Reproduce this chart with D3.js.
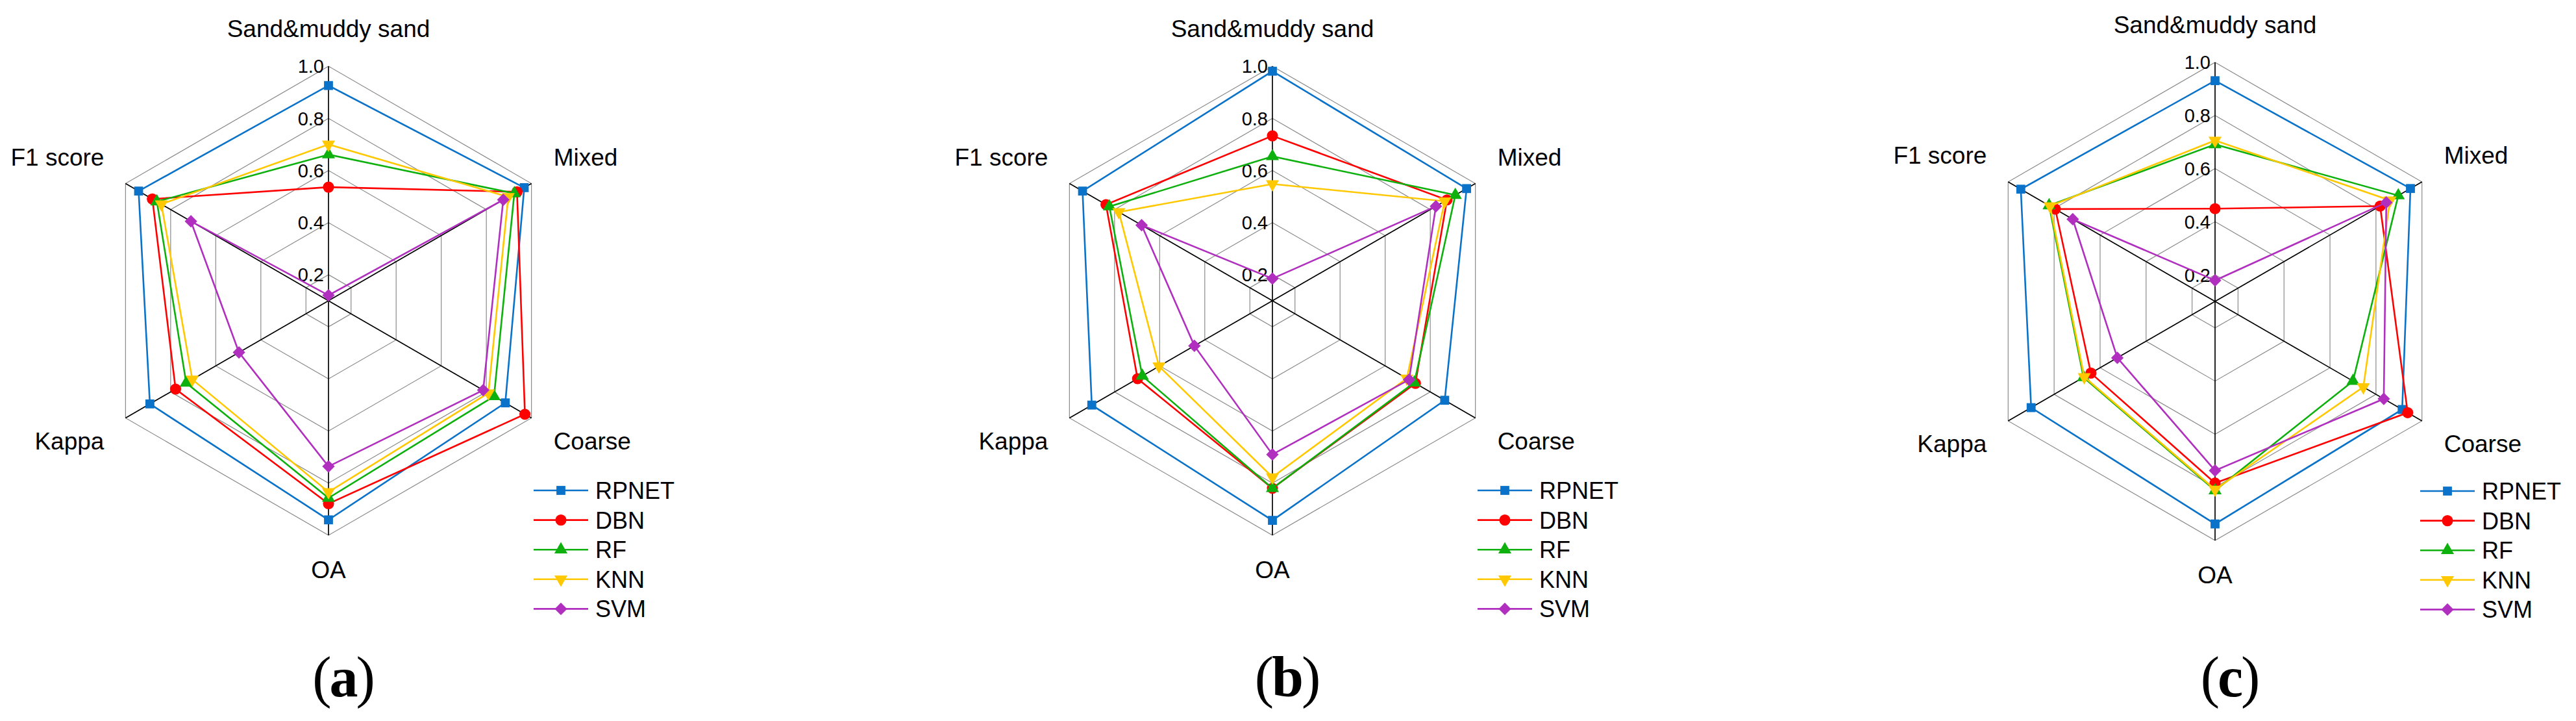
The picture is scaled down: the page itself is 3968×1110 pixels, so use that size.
<!DOCTYPE html>
<html>
<head>
<meta charset="utf-8">
<script src="https://cdn.jsdelivr.net/npm/d3@7/dist/d3.min.js"></script>
<style>
  html, body { margin: 0; padding: 0; background: #ffffff; }
  svg { display: block; }
</style>
</head>
<body>
<svg id="chart" width="3968" height="1110"></svg>
<script>
// ---------------- data ----------------
const axes = ["Sand&muddy sand", "Mixed", "Coarse", "OA", "Kappa", "F1 score"];
const seriesNames = ["RPNET", "DBN", "RF", "KNN", "SVM"];
const tickValues = [0.2, 0.4, 0.6, 0.8, 1.0];
const panelTitles = ["a", "b", "c"];

// values per series, in axis order: Sand, Mixed, Coarse, OA, Kappa, F1
const panelA = [
  [0.926, 0.968, 0.884, 0.941, 0.892, 0.942],
  [0.536, 0.936, 0.971, 0.879, 0.778, 0.881],
  [0.661, 0.924, 0.834, 0.857, 0.731, 0.861],
  [0.700, 0.897, 0.809, 0.834, 0.704, 0.841],
  [0.121, 0.875, 0.786, 0.736, 0.497, 0.710]
];
const panelB = [
  [0.981, 0.961, 0.864, 0.943, 0.901, 0.942],
  [0.733, 0.874, 0.734, 0.820, 0.698, 0.838],
  [0.654, 0.911, 0.729, 0.820, 0.677, 0.823],
  [0.548, 0.864, 0.696, 0.777, 0.603, 0.781],
  [0.185, 0.825, 0.706, 0.690, 0.446, 0.680]
];
const panelC = [
  [0.931, 0.950, 0.914, 0.938, 0.900, 0.945],
  [0.449, 0.818, 0.938, 0.784, 0.640, 0.795],
  [0.691, 0.897, 0.700, 0.812, 0.672, 0.822],
  [0.706, 0.861, 0.745, 0.808, 0.669, 0.818],
  [0.179, 0.845, 0.834, 0.737, 0.525, 0.719]
];

// ---------------- styles ----------------
const colors = ["#0a72c8", "#ff0000", "#0db00d", "#ffc800", "#b02fbf"];
const symbolTypes = ["square", "circle", "triangle", "triangleDown", "diamond"];
const panels = [
  { title: panelTitles[0], data: panelA, cx: 506,  cy: 463, R: 361 },
  { title: panelTitles[1], data: panelB, cx: 1960, cy: 463, R: 361 },
  { title: panelTitles[2], data: panelC, cx: 3412, cy: 464, R: 368 }
];

const svg = d3.select("#chart");
const sansFont = "'Liberation Sans', Arial, Helvetica, sans-serif";
const serifFont = "'Liberation Serif', 'Times New Roman', serif";
const angle = i => i * 2 * Math.PI / axes.length;

function symbolPath(type) {
  switch (type) {
    case "square": return d3.symbol(d3.symbolSquare, 190)();
    case "circle": return d3.symbol(d3.symbolCircle, 230)();
    case "triangle": return d3.symbol(d3.symbolTriangle, 175)();
    case "triangleDown": return d3.symbol(d3.symbolTriangle, 175)();
    case "diamond": return d3.symbol(d3.symbolSquare, 185)();
  }
}
function symbolRotate(type) {
  if (type === "triangleDown") return " rotate(180)";
  if (type === "diamond") return " rotate(45)";
  return "";
}

panels.forEach(p => {
  const g = svg.append("g").attr("transform", `translate(${p.cx},${p.cy})`);
  const r = d3.scaleLinear().domain([0.1, 1.0]).range([0, p.R]);

  const radial = d3.lineRadial()
    .angle((d, i) => angle(i))
    .radius(d => r(d))
    .curve(d3.curveLinearClosed);

  // grid hexagons
  g.selectAll("path.grid")
    .data(tickValues)
    .join("path")
    .attr("class", "grid")
    .attr("d", v => radial(axes.map(() => v)))
    .attr("fill", "none")
    .attr("stroke", "#8a8a8a")
    .attr("stroke-width", 1.2);

  // axis spokes
  g.selectAll("line.spoke")
    .data(axes)
    .join("line")
    .attr("class", "spoke")
    .attr("x1", 0).attr("y1", 0)
    .attr("x2", (d, i) => r(1.0) * Math.sin(angle(i)))
    .attr("y2", (d, i) => -r(1.0) * Math.cos(angle(i)))
    .attr("stroke", "#000")
    .attr("stroke-width", 1.7);

  // tick labels along the top axis
  g.selectAll("text.tick")
    .data(tickValues)
    .join("text")
    .attr("class", "tick")
    .attr("x", -7)
    .attr("y", v => -r(v))
    .attr("dy", "0.36em")
    .attr("text-anchor", "end")
    .attr("font-family", sansFont)
    .attr("font-size", 29)
    .attr("fill", "#000")
    .text(d3.format(".1f"));

  // axis labels
  const R = p.R, h = R * Math.sin(Math.PI / 3);
  const labelPos = [
    { x: 0, y: -R - 45, anchor: "middle" },
    { x: h + 34, y: -R / 2 - 28, anchor: "start" },
    { x: h + 34, y: R / 2 + 48, anchor: "start" },
    { x: 0, y: R + 66, anchor: "middle" },
    { x: -h - 33, y: R / 2 + 48, anchor: "end" },
    { x: -h - 33, y: -R / 2 - 28, anchor: "end" }
  ];
  g.selectAll("text.axislabel")
    .data(axes)
    .join("text")
    .attr("class", "axislabel")
    .attr("x", (d, i) => labelPos[i].x)
    .attr("y", (d, i) => labelPos[i].y)
    .attr("text-anchor", (d, i) => labelPos[i].anchor)
    .attr("font-family", sansFont)
    .attr("font-size", 37)
    .attr("fill", "#000")
    .text(d => d);

  // series
  p.data.forEach((vals, s) => {
    const sg = g.append("g");
    sg.append("path")
      .attr("d", radial(vals))
      .attr("fill", "none")
      .attr("stroke", colors[s])
      .attr("stroke-width", 2.6)
      .attr("stroke-linejoin", "miter");
    sg.selectAll("path.mk")
      .data(vals)
      .join("path")
      .attr("class", "mk")
      .attr("d", symbolPath(symbolTypes[s]))
      .attr("transform", (d, i) => {
        const x = r(d) * Math.sin(angle(i));
        const y = -r(d) * Math.cos(angle(i));
        return `translate(${x},${y})` + symbolRotate(symbolTypes[s]);
      })
      .attr("fill", colors[s]);
  });

  // legend
  const lg = g.append("g").attr("transform", `translate(316, 292)`);
  seriesNames.forEach((name, s) => {
    const y = s * 45.6;
    lg.append("line")
      .attr("x1", 0).attr("x2", 84).attr("y1", y).attr("y2", y)
      .attr("stroke", colors[s]).attr("stroke-width", 2.6);
    lg.append("path")
      .attr("d", symbolPath(symbolTypes[s]))
      .attr("transform", `translate(42,${y})` + symbolRotate(symbolTypes[s]))
      .attr("fill", colors[s]);
    lg.append("text")
      .attr("x", 95).attr("y", y).attr("dy", "0.36em")
      .attr("font-family", sansFont)
      .attr("font-size", 36)
      .attr("fill", "#000")
      .text(name);
  });

  // panel title
  const t = svg.append("text")
    .attr("x", p.cx + 22)
    .attr("y", 1072)
    .attr("text-anchor", "middle")
    .attr("font-family", serifFont)
    .attr("font-size", 88)
    .attr("letter-spacing", -3)
    .attr("fill", "#000");
  t.append("tspan").text("(");
  t.append("tspan").attr("font-weight", "bold").text(p.title);
  t.append("tspan").text(")");
});
</script>
</body>
</html>
